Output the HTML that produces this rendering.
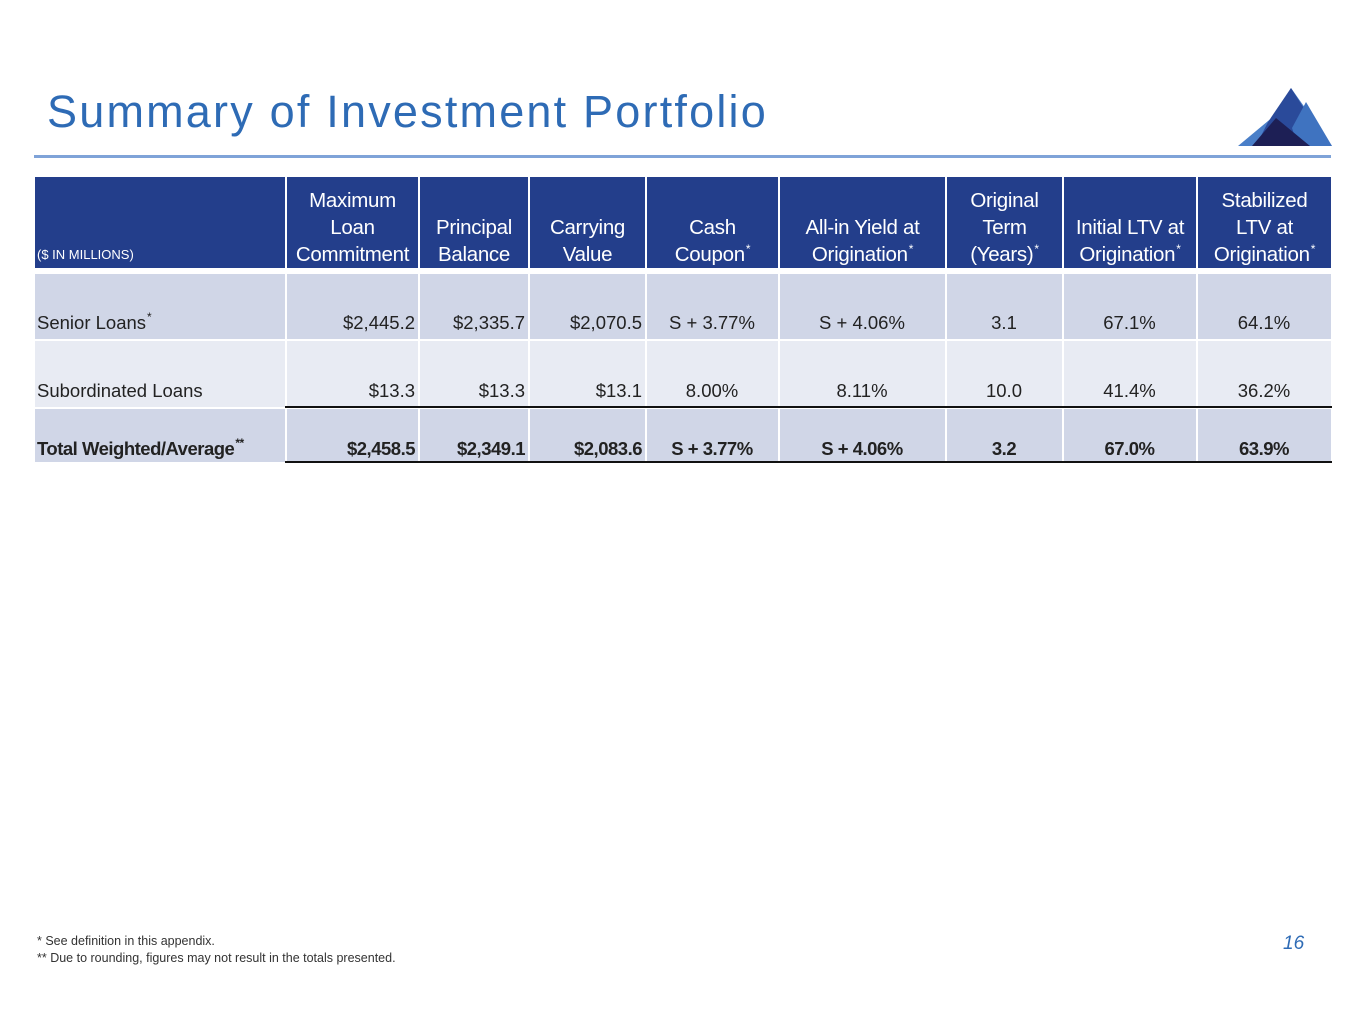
<!DOCTYPE html><html><head><style>
body{margin:0;width:1365px;height:1024px;background:#fff;position:relative;font-family:"Liberation Sans",sans-serif;overflow:hidden}
.a{position:absolute}
.h{background:#233e8b;color:#fff;font-size:20.5px;line-height:27px;text-align:center;display:flex;flex-direction:column;justify-content:flex-end;box-sizing:border-box;top:177px;height:91px;letter-spacing:-0.3px}
.c{font-size:18.5px;color:#222;display:flex;align-items:flex-end;box-sizing:border-box;white-space:nowrap}
.s{font-size:12px;position:relative;top:-8px;margin-left:1px;line-height:0}
</style></head><body>
<div class="a" style="left:47px;top:86px;font-size:45px;color:#2e6bb5;letter-spacing:2.2px">Summary of Investment Portfolio</div>
<svg class="a" style="left:1236px;top:88px" width="96" height="60">
<polygon points="2,58 38,28 55,0 96,58" fill="#4a7fc8"/>
<polygon points="32,34 55,0 78,36 70,58 20,58" fill="#2a4a9a"/>
<polygon points="70,14 96,58 62,58 56,40" fill="#3f73c0"/>
<polygon points="16,58 40,30 74,58" fill="#1d1f55"/>
</svg>
<div class="a" style="left:34px;top:155px;width:1297px;height:3px;background:#7fa3d8"></div>
<div id="t"></div>
<div class="a" style="left:37px;top:933px;font-size:12.5px;color:#333;line-height:17px">* See definition in this appendix.<br>** Due to rounding, figures may not result in the totals presented.</div>
<div class="a" style="left:1283px;top:933px;font-size:19px;color:#2e6bb5;font-style:italic">16</div>
<script>
var S='<span class="s">*</span>',SS='<span class="s">**</span>';
var cols=[[35,285],[287,418],[420,528],[530,645],[647,778],[780,945],[947,1062],[1064,1196],[1198,1331]];
var hd=['<span style="font-size:13px;text-align:left;padding-left:2px;letter-spacing:0">($ IN MILLIONS)</span>','Maximum<br>Loan<br>Commitment','Principal<br>Balance','Carrying<br>Value','Cash<br>Coupon'+S,'All-in Yield at<br>Origination'+S,'Original<br>Term<br>(Years)'+S,'Initial LTV at<br>Origination'+S,'Stabilized<br>LTV at<br>Origination'+S];
var rows=[[274,339,'#d0d6e7',['Senior Loans'+S,'$2,445.2','$2,335.7','$2,070.5','S + 3.77%','S + 4.06%','3.1','67.1%','64.1%'],0],
[341,407,'#e8ebf3',['Subordinated Loans','$13.3','$13.3','$13.1','8.00%','8.11%','10.0','41.4%','36.2%'],0],
[409,462,'#d0d6e7',['Total Weighted/Average'+SS,'$2,458.5','$2,349.1','$2,083.6','S + 3.77%','S + 4.06%','3.2','67.0%','63.9%'],1]];
var h='';
cols.forEach(function(c,i){h+='<div class="a h" style="left:'+c[0]+'px;width:'+(c[1]-c[0])+'px;'+(i==0?'text-align:left':'')+'"><div>'+hd[i]+'</div></div>';});
rows.forEach(function(r){cols.forEach(function(c,i){var j=i==0?'flex-start':(i<4?'flex-end':'center');
h+='<div class="a c" style="left:'+c[0]+'px;width:'+(c[1]-c[0])+'px;top:'+r[0]+'px;height:'+(r[1]-r[0])+'px;background:'+r[2]+';justify-content:'+j+';padding-left:2px;padding-right:3px;'+(r[4]?'font-weight:bold;padding-bottom:2px;letter-spacing:-0.5px;':'padding-bottom:5px;')+'"><span>'+r[3][i]+'</span></div>';});});
h+='<div class="a" style="left:285px;top:406px;width:1047px;height:2px;background:#111"></div>';
h+='<div class="a" style="left:285px;top:461px;width:1047px;height:2px;background:#111"></div>';
document.getElementById('t').innerHTML=h;
</script>
</body></html>
